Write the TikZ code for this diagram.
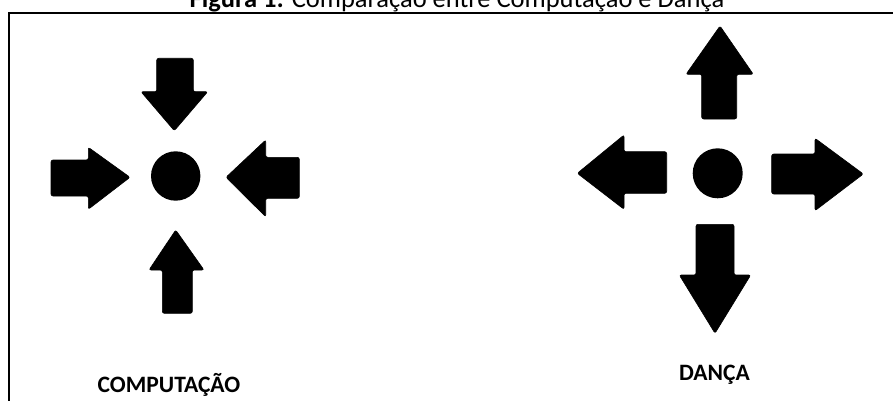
\documentclass[tikz,border=0pt]{standalone}
\usepackage{fontspec}
\setmainfont{Carlito}
\begin{document}
\begin{tikzpicture}[x=1pt,y=-1pt,
  blockarrow/.style={fill=black,draw=black,line width=0.6pt,rounded corners=2pt},
  dot/.style={circle,fill=black,inner sep=0pt},
  label/.style={anchor=base,font=\fontsize{23.5}{25}\selectfont\bfseries,inner sep=0pt},
  caption/.style={anchor=base,font=\fontsize{26.5}{28}\selectfont,inner sep=0pt},
  frame/.style={line width=2pt,line cap=rect}]
\useasboundingbox (0,0) rectangle (893,401);
\clip (0,0) rectangle (893,401);

% caption above the frame
\node[caption] (title) at (457,8) {\textbf{Figura 1:} Comparação entre Computação e Dança};

% frame: top rule and left rule
\coordinate (tl) at (8.5,12.8);
\coordinate (tr) at (893,12.8);
\coordinate (bl) at (8.5,401);
\draw[frame] (tr) -- (tl) -- (bl);

% ---- left group: arrows pointing inwards ----
\node[dot,minimum size=49.4pt] (cdot) at (175.7,176) {};
% from above, pointing down
\fill[blockarrow] (156.7,58.3) -- (193.3,58.3) -- (193.3,91.7) -- (207.7,91.7)
  -- (174.3,130.7) -- (141,91.7) -- (156.7,91.7) -- cycle;
% from the left, pointing right
\fill[blockarrow] (51,160) -- (88.3,160) -- (88.3,147.3) -- (130,177.3)
  -- (88.3,209.3) -- (88.3,196) -- (51,196) -- cycle;
% from the right, pointing left
\fill[blockarrow] (299.3,157.3) -- (265.7,157.3) -- (265.7,140) -- (226,177.3)
  -- (265.7,216.7) -- (265.7,198.3) -- (299.3,198.3) -- cycle;
% from below, pointing up
\fill[blockarrow] (162.3,313.3) -- (162.3,270) -- (149,270) -- (175.7,230)
  -- (204,270) -- (192.3,270) -- (192.3,313.3) -- cycle;

\node[label] (lcomp) at (169,392.7) {COMPUTAÇÃO};

% ---- right group: arrows pointing outwards ----
\node[dot,minimum size=50pt] (ddot) at (717.7,173.3) {};
% upwards
\fill[blockarrow] (701.7,119) -- (701.7,74.3) -- (686,74.3) -- (720,26)
  -- (753.3,74.3) -- (736.7,74.3) -- (736.7,119) -- cycle;
% leftwards
\fill[blockarrow] (666.7,151.7) -- (624,151.7) -- (624,135) -- (577.3,173.3)
  -- (624,209.3) -- (624,193.3) -- (666.7,193.3) -- cycle;
% rightwards
\fill[blockarrow] (771.7,154) -- (815,154) -- (815,138.3) -- (863.3,174)
  -- (815,210.7) -- (815,194) -- (771.7,194) -- cycle;
% downwards
\fill[blockarrow] (696,224.3) -- (734,224.3) -- (734,275) -- (750.7,275)
  -- (715,333.3) -- (679.3,275) -- (696,275) -- cycle;

\node[label] (ldanca) at (714.4,380.7) {DANÇA};
\end{tikzpicture}
\end{document}
